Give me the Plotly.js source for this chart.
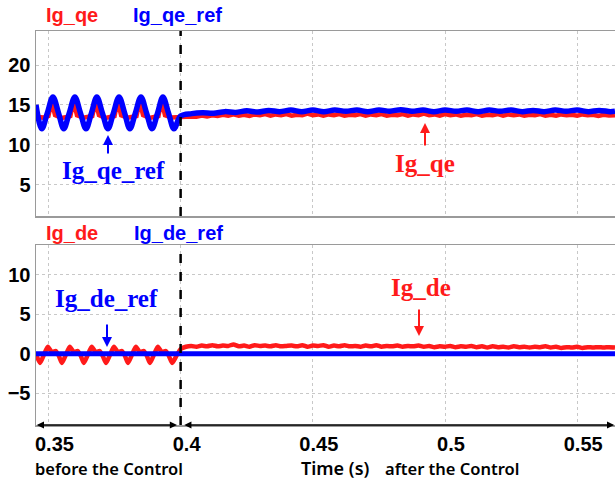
<!DOCTYPE html>
<html>
<head>
<meta charset="utf-8">
<script src="https://cdn.plot.ly/plotly-3.0.1.min.js"></script>
<style>html,body{margin:0;padding:0;background:#fff;}#chart{width:615px;height:480px;}</style>
</head>
<body>
<div id="chart"></div>
<script>
// ---------- data ----------
var qeRefT = [0.3453,0.3475,0.3496,0.3517,0.3538,0.3558,0.3579,0.3600,0.3621,0.3642,0.3663,0.3683,0.3704,0.3725,0.3746,0.3767,0.3788,0.3808,0.3829,0.3850,0.3871,0.3892,0.3913,0.3933,0.3954,0.3975,0.4000,
  0.4042,0.4083,0.4125,0.4167,0.4208,0.4250,0.4292,0.4333,0.4375,0.4417,0.4458,0.4500,0.4542,0.4583,0.4625,0.4667,0.4708,0.4750,0.4792,0.4833,0.4875,0.4917,0.4958,0.5000,0.5042,0.5083,0.5125,0.5167,0.5208,0.5250,0.5292,0.5333,0.5375,0.5417,0.5458,0.5500,0.5542,0.5583,0.5625,0.5643];
var qeRef = [15.0,12.0,14.0,16.0,14.0,12.0,14.0,16.0,14.0,12.0,14.0,16.0,14.0,12.0,14.0,16.0,14.0,12.0,14.0,16.0,14.0,12.0,14.0,16.0,14.0,12.0,13.6,
  13.9,14.0,13.95,14.15,14.05,14.25,14.1,14.3,14.15,14.35,14.15,14.35,14.15,14.35,14.2,14.35,14.15,14.35,14.2,14.4,14.2,14.35,14.15,14.35,14.2,14.35,14.15,14.35,14.2,14.35,14.15,14.3,14.15,14.35,14.2,14.35,14.15,14.3,14.15,14.2];

var qeT = [0.3453,0.3480,0.3500,0.3512,0.3525,0.3550,0.3575,0.3583,0.3595,0.3608,0.3633,0.3658,0.3666,0.3678,0.3691,0.3716,0.3741,0.3750,0.3762,0.3775,0.3800,0.3825,0.3833,0.3845,0.3858,0.3883,0.3908,0.3916,0.3928,0.3941,0.3966,0.3985,
  0.400,0.402,0.404,0.406,0.408,0.410,0.412,0.414,0.416,0.418,
  0.420,0.422,0.424,0.426,0.428,0.430,0.432,0.434,0.436,0.438,
  0.440,0.442,0.444,0.446,0.448,0.450,0.452,0.454,0.456,0.458,
  0.460,0.462,0.464,0.466,0.468,0.470,0.472,0.474,0.476,0.478,
  0.480,0.482,0.484,0.486,0.488,0.490,0.492,0.494,0.496,0.498,
  0.500,0.502,0.504,0.506,0.508,0.510,0.512,0.514,0.516,0.518,
  0.520,0.522,0.524,0.526,0.528,0.530,0.532,0.534,0.536,0.538,
  0.540,0.542,0.544,0.546,0.548,0.550,0.552,0.554,0.556,0.558,
  0.560,0.562,0.5643];
var qe = [13.5,13.4,13.6,15.4,13.7,13.35,13.5,13.6,15.5,13.7,13.4,13.5,13.6,15.4,13.7,13.35,13.45,13.6,15.5,13.7,13.4,13.5,13.6,15.4,13.7,13.35,13.5,13.6,15.5,13.7,13.4,13.45,
  13.4,13.5,13.55,13.5,13.65,13.55,13.7,13.6,13.75,13.65,
  13.8,13.65,13.75,13.6,13.8,13.7,13.85,13.65,13.8,13.7,
  13.85,13.65,13.75,13.7,13.9,13.7,13.8,13.65,13.8,13.7,
  13.85,13.65,13.75,13.7,13.85,13.65,13.8,13.7,13.85,13.65,
  13.75,13.7,13.85,13.65,13.8,13.7,13.9,13.7,13.8,13.65,
  13.85,13.7,13.8,13.65,13.75,13.7,13.85,13.65,13.75,13.7,
  13.85,13.65,13.8,13.7,13.8,13.65,13.75,13.7,13.85,13.65,
  13.75,13.65,13.8,13.7,13.75,13.65,13.8,13.7,13.75,13.6,
  13.75,13.65,13.7];

var deRefT = [0.3453,0.5643];
var deRef = [0.0,0.0];

var deT = [0.3453,0.3468,0.3483,0.3498,0.3513,0.3528,0.3540,
  0.3551,0.3566,0.3581,0.3596,0.3611,0.3623,
  0.3634,0.3649,0.3664,0.3679,0.3694,0.3706,
  0.3718,0.3733,0.3748,0.3763,0.3778,0.3790,
  0.3801,0.3816,0.3831,0.3846,0.3861,0.3873,
  0.3884,0.3899,0.3914,0.3929,0.3944,0.3956,
  0.3968,0.3985,
  0.400,0.402,0.404,0.406,0.408,0.410,0.412,0.414,0.416,0.418,
  0.420,0.422,0.424,0.426,0.428,0.430,0.432,0.434,0.436,0.438,
  0.440,0.442,0.444,0.446,0.448,0.450,0.452,0.454,0.456,0.458,
  0.460,0.462,0.464,0.466,0.468,0.470,0.472,0.474,0.476,0.478,
  0.480,0.482,0.484,0.486,0.488,0.490,0.492,0.494,0.496,0.498,
  0.500,0.502,0.504,0.506,0.508,0.510,0.512,0.514,0.516,0.518,
  0.520,0.522,0.524,0.526,0.528,0.530,0.532,0.534,0.536,0.538,
  0.540,0.542,0.544,0.546,0.548,0.550,0.552,0.554,0.556,0.558,
  0.560,0.562,0.5643];
var de = [0.0,-1.15,-0.1,0.9,0.2,0.35,-0.3,
  -1.15,-0.1,0.9,0.2,0.35,-0.3,
  -1.15,-0.1,0.9,0.2,0.35,-0.3,
  -1.15,-0.1,0.9,0.2,0.35,-0.3,
  -1.15,-0.1,0.9,0.2,0.35,-0.3,
  -1.15,-0.1,0.9,0.2,0.35,-0.3,
  -1.15,-0.2,
  0.6,0.9,1.0,0.9,1.05,0.95,1.1,0.95,1.05,1.0,
  1.2,0.95,1.05,0.9,1.1,1.0,1.05,0.95,1.1,0.95,
  1.0,1.05,0.95,1.1,0.9,1.05,1.0,1.1,0.9,1.05,
  0.95,1.1,0.95,1.0,0.9,1.05,0.95,1.1,0.9,1.0,
  0.95,1.05,0.9,1.0,0.95,1.05,0.9,1.0,0.85,0.95,
  0.9,1.0,0.85,0.95,0.9,1.0,0.85,0.95,0.8,0.95,
  0.85,0.9,0.8,0.95,0.85,0.9,0.8,0.9,0.85,0.95,
  0.8,0.9,0.75,0.85,0.8,0.9,0.75,0.85,0.8,0.85,
  0.8,0.85,0.8];

var xTicks = [0.35,0.4,0.45,0.5,0.55];
var xTickText = ['0.35','0.4','0.45','0.5','0.55'];
var yTopTicks = [5,10,15,20];
var yBotTicks = [-5,0,5,10];

// ---------- layout helpers ----------
var L = 36, R = 0, T = 31, B = 55, W = 615, H = 480;
var PW = W - L - R, PH = H - T - B;
function PX(px){ return (px - L) / PW; }
function PY(py){ return (H - B - py) / PH; }

var RED = '#ff1a1a', BLUE = '#0000ff';
var tickFont = {family:'Liberation Sans, Arial, sans-serif', size:20, weight:'bold', color:'#000'};
var xr = [0.3453, 0.5643];

var axBase = {
  showline:true, mirror:true, linecolor:'#9a9a9a', linewidth:1.5,
  showgrid:true, gridcolor:'#c8c8c8', griddash:'dot', gridwidth:1,
  zeroline:false, ticks:'', tickfont:tickFont
};

var traces = [
  {x:qeT, y:qe, xaxis:'x', yaxis:'y', mode:'lines', line:{color:RED, width:4.5}, name:'Ig_qe'},
  {x:qeRefT, y:qeRef, xaxis:'x', yaxis:'y', mode:'lines', line:{color:BLUE, width:5.5, shape:'spline', smoothing:1}, name:'Ig_qe_ref'},
  {x:deT, y:de, xaxis:'x2', yaxis:'y2', mode:'lines', line:{color:RED, width:4.5, shape:'spline', smoothing:0.6}, name:'Ig_de'},
  {x:deRefT, y:deRef, xaxis:'x2', yaxis:'y2', mode:'lines', line:{color:BLUE, width:5}, name:'Ig_de_ref'}
];

function txt(text, px, py, color, font, size, weight){
  return {text:text, x:PX(px), y:PY(py), xref:'paper', yref:'paper', xanchor:'center', yanchor:'middle',
    showarrow:false, borderpad:0, font:{family:font, size:size, color:color, weight:weight||'bold'}};
}
function arr(px, headY, tailY, color){
  return {text:'', x:PX(px), y:PY(headY), xref:'paper', yref:'paper', showarrow:true,
    ax:0, ay:tailY - headY, arrowhead:2, arrowsize:1, arrowwidth:2, arrowcolor:color};
}
var SANS = 'Liberation Sans, Arial, sans-serif';
var SERIF = 'Liberation Serif, Times New Roman, serif';
var NOTE = 'Noto Sans, sans-serif';

var annotations = [
  txt('Ig_qe', 71.5, 15, RED, SANS, 20),
  txt('Ig_qe_ref', 177.5, 15, BLUE, SANS, 20),
  txt('Ig_de', 71.5, 233, RED, SANS, 20),
  txt('Ig_de_ref', 178.5, 233, BLUE, SANS, 20),
  txt('Ig_qe_ref', 113.5, 170, BLUE, SERIF, 25),
  txt('Ig_qe', 424.5, 163, RED, SERIF, 25),
  txt('Ig_de_ref', 106.5, 298, BLUE, SERIF, 25),
  txt('Ig_de', 421, 287, RED, SERIF, 25),
  txt('before the Control', 109, 468, '#000', NOTE, 16.5, 600),
  txt('Time (s)', 335, 468, '#000', NOTE, 18, 600),
  txt('after the Control', 452, 468, '#000', NOTE, 16.5, 600),
  arr(108, 135, 155, BLUE),
  arr(425, 123, 147, RED),
  arr(107, 347, 323, BLUE),
  arr(419, 336, 308, RED),
  {text:'', x:0.3456, y:-9.02, xref:'x2', yref:'y2', ax:0.3992, ay:-9.02, axref:'x2', ayref:'y2',
    showarrow:true, arrowside:'end+start', arrowhead:2, arrowsize:0.9, arrowwidth:1.6, arrowcolor:'#000'},
  {text:'', x:0.5640, y:-9.02, xref:'x2', yref:'y2', ax:0.4008, ay:-9.02, axref:'x2', ayref:'y2',
    showarrow:true, arrowside:'end+start', arrowhead:2, arrowsize:0.9, arrowwidth:1.6, arrowcolor:'#000'}
];

var shapes = [
  {type:'line', xref:'x', yref:'y domain', x0:0.4, x1:0.4, y0:0, y1:1, line:{color:'#000', width:2.5, dash:'dash'}},
  {type:'line', xref:'x2', yref:'y2 domain', x0:0.4, x1:0.4, y0:0, y1:1, line:{color:'#000', width:2.5, dash:'dash'}}
];

var layout = {
  width:W, height:H, margin:{l:L, r:R, t:T, b:B, pad:0},
  paper_bgcolor:'#fff', plot_bgcolor:'#fff', showlegend:false,
  xaxis: Object.assign({}, axBase, {anchor:'y', range:xr, tickvals:xTicks, showticklabels:false}),
  yaxis: Object.assign({}, axBase, {anchor:'x', domain:[PY(216), 1], range:[1.05, 24.27], tickvals:yTopTicks}),
  xaxis2: Object.assign({}, axBase, {anchor:'y2', range:xr, tickvals:xTicks, ticktext:xTickText, ticklabelshift:6, ticklabelstandoff:0}),
  yaxis2: Object.assign({}, axBase, {anchor:'x2', domain:[0, PY(245)], range:[-9.02, 13.8], tickvals:yBotTicks}),
  annotations:annotations, shapes:shapes
};

Plotly.newPlot('chart', traces, layout, {displayModeBar:false, staticPlot:true});
</script>
</body>
</html>
